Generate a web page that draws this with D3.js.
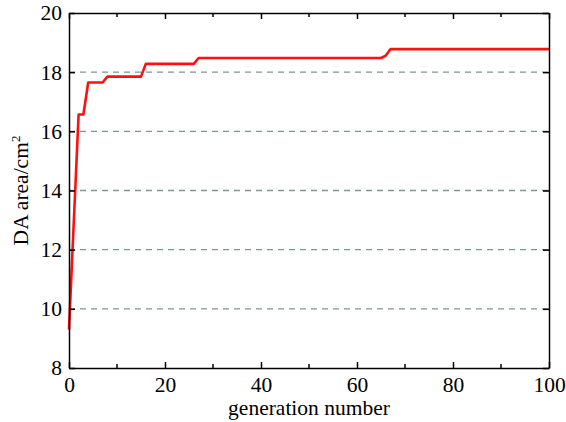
<!DOCTYPE html>
<html>
<head>
<meta charset="utf-8">
<script src="https://cdn.jsdelivr.net/npm/d3@7"></script>
<style>
  html, body { margin: 0; padding: 0; background: #fff; }
  svg text { font-family: "Liberation Serif", "Times New Roman", Times, serif !important; fill: #000; }
</style>
</head>
<body>
<svg id="chart" width="566" height="422"></svg>
<script>
// Best DA area found so far, at each generation where it changes
const generations = [0, 2, 3, 4, 7, 8, 15, 16, 26, 27, 65, 66, 67, 100];
const areaValues  = [9.3, 16.57, 16.57, 17.65, 17.65, 17.85, 17.85, 18.28, 18.28, 18.48, 18.48, 18.56, 18.78, 18.78];

const xTicks = [0, 20, 40, 60, 80, 100];
const xMinorTicks = [10, 30, 50, 70, 90];
const yTicks = [8, 10, 12, 14, 16, 18, 20];
const gridValues = [10, 12, 14, 16, 18];

const margin = { left: 69, right: 17, top: 13, bottom: 54 };
const W = 566, H = 422;
const fontSize = 21.5;

const svg = d3.select("#chart");
const x = d3.scaleLinear().domain([0, 100]).range([margin.left, W - margin.right]);
const y = d3.scaleLinear().domain([8, 20]).range([H - margin.bottom, margin.top]);

// dashed horizontal grid
svg.append("g").selectAll("line").data(gridValues).join("line")
  .attr("x1", x(0)).attr("x2", x(100))
  .attr("y1", d => y(d)).attr("y2", d => y(d))
  .attr("stroke", "#7d9696").attr("stroke-width", 1.3)
  .attr("stroke-dasharray", "6,5");

// data line
const line = d3.line().x((d, i) => x(generations[i])).y(d => y(d));
svg.append("path").datum(areaValues)
  .attr("d", line)
  .attr("fill", "none").attr("stroke", "#ff1010")
  .attr("stroke-width", 2.6).attr("stroke-linejoin", "round");

// axes with inward ticks; labels on bottom and left only
const tickLen = 6, minorLen = 4;
const axisB = svg.append("g").attr("transform", `translate(0,${y(8)})`)
  .call(d3.axisBottom(x).tickValues(xTicks).tickSizeInner(-tickLen).tickSizeOuter(0).tickPadding(tickLen + 3));
axisB.selectAll(".tick text").attr("font-size", fontSize).attr("dy", "0.71em");
axisB.append("g").selectAll("line").data(xMinorTicks).join("line")
  .attr("x1", d => x(d)).attr("x2", d => x(d)).attr("y1", 0).attr("y2", -minorLen)
  .attr("stroke", "#000").attr("stroke-width", 1.5);

const axisT = svg.append("g").attr("transform", `translate(0,${y(20)})`)
  .call(d3.axisTop(x).tickValues(xTicks).tickSizeInner(-tickLen).tickSizeOuter(0).tickFormat(""));
axisT.append("g").selectAll("line").data(xMinorTicks).join("line")
  .attr("x1", d => x(d)).attr("x2", d => x(d)).attr("y1", 0).attr("y2", minorLen)
  .attr("stroke", "#000").attr("stroke-width", 1.5);

const axisL = svg.append("g").attr("transform", `translate(${x(0)},0)`)
  .call(d3.axisLeft(y).tickValues(yTicks).tickSizeInner(-tickLen).tickSizeOuter(0).tickPadding(tickLen + 1));
axisL.selectAll(".tick text").attr("font-size", fontSize);

svg.append("g").attr("transform", `translate(${x(100)},0)`)
  .call(d3.axisRight(y).tickValues(yTicks).tickSizeInner(-tickLen).tickSizeOuter(0).tickFormat(""));

svg.selectAll(".domain").attr("stroke", "#000").attr("stroke-width", 1.5);
svg.selectAll(".tick line").attr("stroke", "#000").attr("stroke-width", 1.5);

// axis titles
svg.append("text")
  .attr("x", x(50)).attr("y", 415)
  .attr("text-anchor", "middle").attr("font-size", fontSize)
  .text("generation number");

const yt = svg.append("text")
  .attr("transform", `translate(28,${(y(8) + y(20)) / 2}) rotate(-90)`)
  .attr("text-anchor", "middle").attr("font-size", fontSize);
yt.append("tspan").text("DA area/cm");
yt.append("tspan").attr("font-size", 13).attr("dy", "-0.65em").text("2");
</script>
</body>
</html>
